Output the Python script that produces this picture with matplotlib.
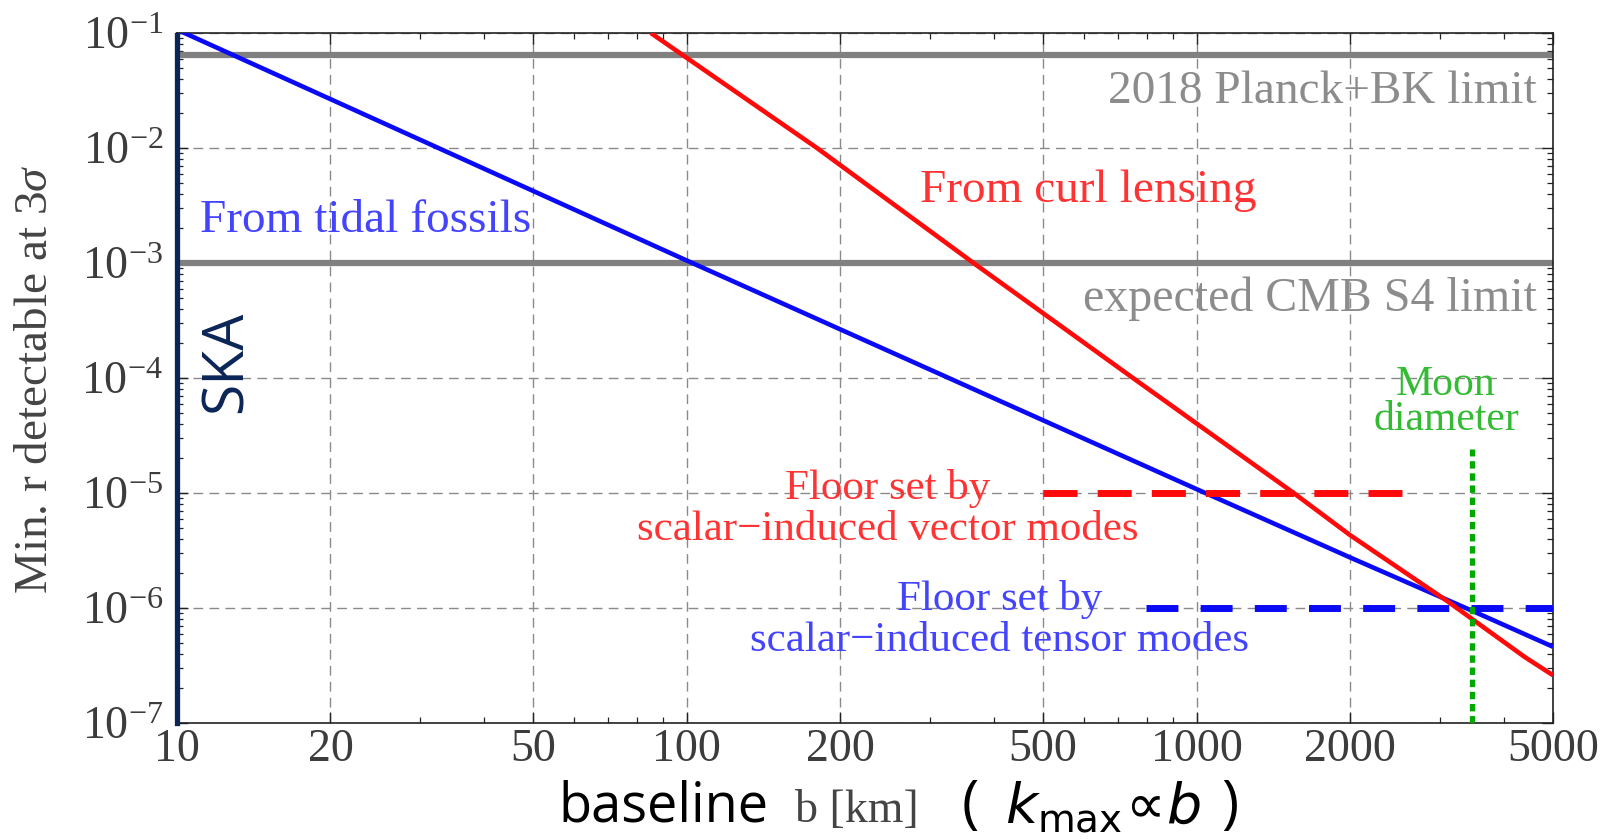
import matplotlib
matplotlib.use('Agg')
import matplotlib.pyplot as plt
from matplotlib.ticker import FixedLocator, FixedFormatter, LogLocator, NullFormatter, LogFormatterSciNotation

# ---------------- data ----------------
tidal_b = [10, 100, 1000, 2000, 3500, 5000]
tidal_r = [0.107, 1.05e-3, 1.08e-5, 2.75e-6, 9.3e-7, 4.6e-7]

curl_b = [85, 180, 365, 750, 1550, 2000, 3100, 4400, 5000]
curl_r = [0.1, 0.01, 1e-3, 1e-4, 1e-5, 4.3e-6, 1.15e-6, 3.75e-7, 2.6e-7]

planck_limit = 0.064
s4_limit = 1e-3

vector_floor = 1e-5
vector_floor_b = [500, 2540]
tensor_floor = 1e-6
tensor_floor_b = [795, 5000]

moon_diameter_km = 3474
moon_line_r = [1e-7, 2.4e-5]
ska_baseline_km = 10

xticks = [10, 20, 50, 100, 200, 500, 1000, 2000, 5000]
xticklabels = ['10', '20', '50', '100', '200', '500', '1000', '2000', '5000']
xlim = [10, 5000]
ylim = [1e-7, 1e-1]

# ---------------- style ----------------
plt.rcParams['font.family'] = ['Liberation Serif', 'DejaVu Serif']
plt.rcParams['mathtext.fontset'] = 'custom'
plt.rcParams['mathtext.rm'] = 'Liberation Serif'
plt.rcParams['mathtext.it'] = 'Liberation Serif:italic'
plt.rcParams['mathtext.bf'] = 'Liberation Serif:bold'

W, H = 1614, 839
fig = plt.figure(figsize=(W / 100, H / 100), dpi=100)
L, R, T, B = 177, 1553, 33, 723
ax = fig.add_axes([L / W, 1 - B / H, (R - L) / W, (B - T) / H])
ax.set_xscale('log')
ax.set_yscale('log')
ax.set_xlim(*xlim)
ax.set_ylim(*ylim)

ax.xaxis.set_major_locator(FixedLocator(xticks))
ax.xaxis.set_major_formatter(FixedFormatter(xticklabels))
ax.xaxis.set_minor_locator(LogLocator(base=10, subs=range(2, 10), numticks=20))
ax.xaxis.set_minor_formatter(NullFormatter())
ax.yaxis.set_major_locator(LogLocator(base=10, numticks=20))
ax.yaxis.set_major_formatter(LogFormatterSciNotation())
ax.yaxis.set_minor_locator(LogLocator(base=10, subs=range(2, 10), numticks=20))
ax.yaxis.set_minor_formatter(NullFormatter())

ax.grid(True, which='major', color='#8a8a8a', lw=1.0, linestyle=(0, (7, 4.5)), zorder=0)
ax.set_axisbelow(True)

ax.tick_params(which='both', direction='in', top=True, right=True, colors='#222222')
ax.tick_params(which='major', length=8, width=1.0, labelsize=33, labelcolor='#3c3c3c')
ax.tick_params(which='minor', length=4, width=0.9)
ax.tick_params(axis='y', which='major', pad=10)
ax.tick_params(axis='x', which='major', pad=4)
for s in ax.spines.values():
    s.set_color('#222222')
    s.set_linewidth(1.2)

# gray limit lines
ax.axhline(planck_limit, color='#808080', lw=4.5, zorder=2)
ax.axhline(s4_limit, color='#808080', lw=4.5, zorder=2)

# main curves
ax.plot(tidal_b, tidal_r, color='#0a0af5', lw=3.3, zorder=3, solid_capstyle='butt')
ax.plot(curl_b, curl_r, color='#ff0a0a', lw=3.3, zorder=3, solid_capstyle='butt')

# floors
ax.plot(tensor_floor_b, [tensor_floor] * 2, color='#0a0af5', lw=5, linestyle=(0, (4.6, 3.2)), zorder=4)
ax.plot(vector_floor_b, [vector_floor] * 2, color='#ff0a0a', lw=5, linestyle=(0, (4.9, 2.9)), zorder=4)

# Moon diameter
ax.plot([moon_diameter_km] * 2, moon_line_r, color='#00a800', lw=3.8, linestyle=(0, (1.4, 0.9)), zorder=5)

# SKA
ax.axvline(ska_baseline_km, ymin=0, ymax=0.997, color='#0b2557', lw=3.8, zorder=6, clip_on=False)

# ---------------- texts ----------------
def ftext(px, py, s, **kw):
    return fig.text(px / W, 1 - py / H, s, **kw)

ftext(1537, 92, '2018 Planck+BK limit', ha='right', va='center', fontsize=34, color='#8c8c8c')
ftext(1537, 299, 'expected CMB S4 limit', ha='right', va='center', fontsize=34.5, color='#8c8c8c')
ftext(1088, 191, 'From curl lensing', ha='center', va='center', fontsize=34, color='#ff3333')
ftext(366, 221, 'From tidal fossils', ha='center', va='center', fontsize=34, color='#4444ff')
ftext(1446, 402, 'Moon\ndiameter', ha='center', va='center', fontsize=30, color='#33bb33',
      linespacing=0.88, multialignment='center')
ftext(888, 509, 'Floor set by\nscalar\u2212induced vector modes', ha='center', va='center',
      fontsize=31, color='#ff3333', linespacing=1.08, multialignment='center')
ftext(1000, 620, 'Floor set by\nscalar\u2212induced tensor modes', ha='center', va='center',
      fontsize=31, color='#4444ff', linespacing=1.08, multialignment='center')

ftext(227, 362, 'SKA', ha='center', va='center', rotation=90, fontsize=41,
      color='#0b2557', family=['Open Sans', 'DejaVu Sans'])

ftext(36, 379, r'Min. r detectable at 3$\sigma$', ha='center', va='center', rotation=90,
      fontsize=34, color='#444444')

# x label pieces
ftext(558, 822, 'baseline', ha='left', va='baseline', fontsize=39, color='black',
      family=['Open Sans', 'DejaVu Sans'])
ftext(795, 822, 'b [km]', ha='left', va='baseline', fontsize=33, color='#444444')
ftext(962, 822, r'(', ha='left', va='baseline', fontsize=42, color='black',
      family=['Open Sans', 'DejaVu Sans'])
ftext(1005, 822, r'$k_{\mathrm{max}}\!\propto\!b$', ha='left', va='baseline', fontsize=40,
      color='black', math_fontfamily='dejavusans')
ftext(1238, 822, r')', ha='right', va='baseline', fontsize=42, color='black',
      family=['Open Sans', 'DejaVu Sans'])

fig.savefig('out.png', dpi=100)
